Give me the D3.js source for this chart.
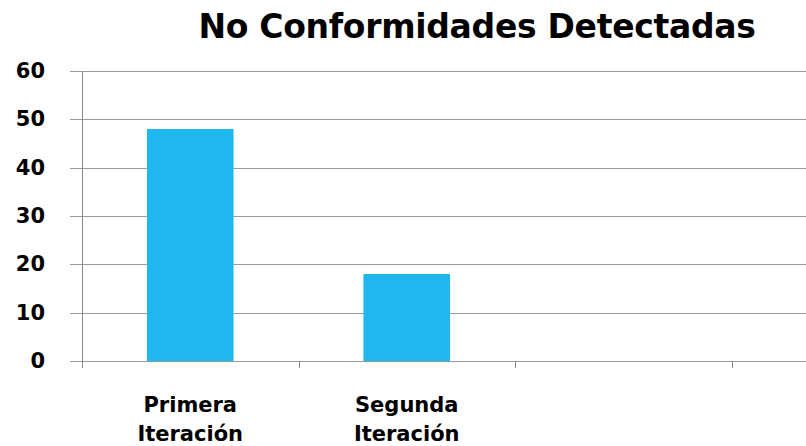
<!DOCTYPE html>
<html>
<head>
<meta charset="utf-8">
<script src="https://cdn.jsdelivr.net/npm/d3@7"></script>
<style>
  body { margin: 0; background: #fff; }
  svg { display: block; }
</style>
</head>
<body>
<div id="chart"></div>
<script>
'use strict';

// Chart data
var categories = ['Primera Iteración', 'Segunda Iteración', '', ''];
var values = [48, 18, null, null];
var yTicks = [0, 10, 20, 30, 40, 50, 60];
var title = 'No Conformidades Detectadas';

var width = 806;
var height = 446;
var plotLeft = 82;
var plotTop = 71;
var plotBottom = 361;
var catWidth = 216.5;
var barColor = '#1fb7ee';
var fontStack = '"DejaVu Sans", Verdana, sans-serif';

var svg = d3.select('#chart').append('svg')
    .attr('width', width)
    .attr('height', height);

var x = d3.scaleBand()
    .domain(d3.range(categories.length))
    .range([plotLeft, plotLeft + catWidth * categories.length])
    .paddingInner(0.6)
    .paddingOuter(0.3);

var y = d3.scaleLinear()
    .domain([0, 60])
    .range([plotBottom, plotTop]);

// Title
svg.append('text')
    .attr('x', 477)
    .attr('y', 38)
    .attr('text-anchor', 'middle')
    .attr('font-family', fontStack)
    .attr('font-weight', 'bold')
    .attr('font-size', 33)
    .attr('letter-spacing', -0.3)
    .attr('fill', '#000')
    .text(title);

// Gridlines with ticks to the left of axis
svg.append('g')
    .selectAll('line')
    .data(yTicks)
    .join('line')
    .attr('x1', 70)
    .attr('x2', width)
    .attr('y1', function(d) { return Math.round(y(d)) + 0.5; })
    .attr('y2', function(d) { return Math.round(y(d)) + 0.5; })
    .style('stroke', '#9a9a9a')
    .style('stroke-width', 1);

// Y tick labels
svg.append('g')
    .selectAll('text')
    .data(yTicks)
    .join('text')
    .attr('x', 45)
    .attr('y', function(d) { return y(d) + 7; })
    .attr('text-anchor', 'end')
    .attr('font-family', fontStack)
    .attr('font-weight', 'bold')
    .attr('font-size', 21)
    .attr('fill', '#000')
    .text(function(d) { return d; });

// Y axis line
svg.append('line')
    .attr('x1', plotLeft + 0.5)
    .attr('x2', plotLeft + 0.5)
    .attr('y1', plotTop)
    .attr('y2', plotBottom + 7)
    .style('stroke', '#8a8a8a');

// X axis category boundary ticks
var bounds = d3.range(categories.length + 1).map(function(i) {
    return plotLeft + i * catWidth;
});
svg.append('g')
    .selectAll('line')
    .data(bounds)
    .join('line')
    .attr('x1', function(d) { return Math.round(d) + 0.5; })
    .attr('x2', function(d) { return Math.round(d) + 0.5; })
    .attr('y1', plotBottom)
    .attr('y2', plotBottom + 7)
    .style('stroke', '#8a8a8a');

// Bars
svg.append('g')
    .selectAll('rect')
    .data(values.map(function(v, i) { return { i: i, v: v }; })
        .filter(function(d) { return d.v !== null; }))
    .join('rect')
    .attr('x', function(d) { return x(d.i); })
    .attr('width', x.bandwidth())
    .attr('y', function(d) { return y(d.v); })
    .attr('height', function(d) { return y(0) - y(d.v); })
    .style('fill', barColor);

// Category labels, two lines each
var labels = svg.append('g')
    .selectAll('text')
    .data(categories.map(function(c, i) { return { i: i, c: c }; })
        .filter(function(d) { return d.c !== ''; }))
    .join('text')
    .attr('text-anchor', 'middle')
    .attr('font-family', fontStack)
    .attr('font-weight', 'bold')
    .attr('font-size', 21)
    .attr('fill', '#000');

labels.each(function(d) {
    var cx = x(d.i) + x.bandwidth() / 2;
    var words = d.c.split(' ');
    var t = d3.select(this);
    words.forEach(function(w, k) {
        t.append('tspan')
            .attr('x', cx)
            .attr('y', 412 + k * 29)
            .text(w);
    });
});
</script>
</body>
</html>
